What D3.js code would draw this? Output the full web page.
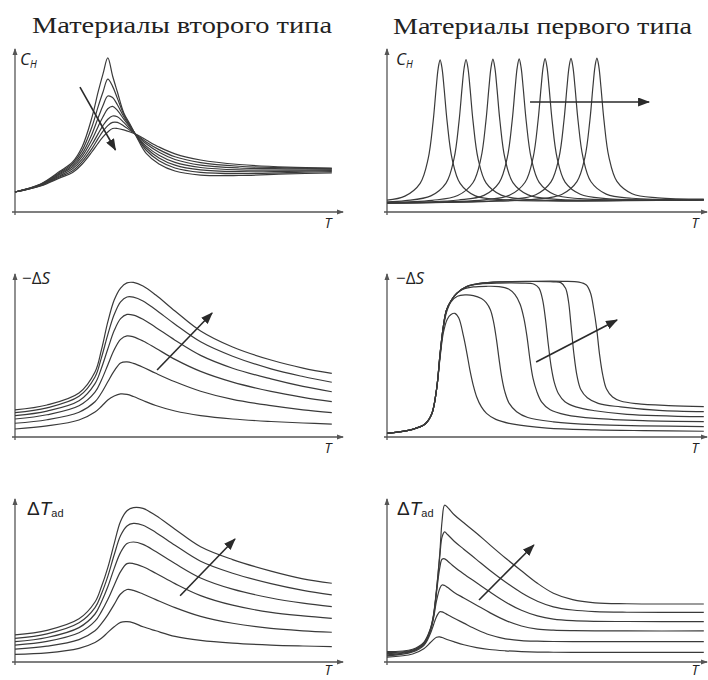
<!DOCTYPE html>
<html>
<head>
<meta charset="utf-8">
<script src="https://cdn.jsdelivr.net/npm/d3@7"></script>
<style>
  body { margin: 0; background: #fff; }
  svg text { fill: #222; }
</style>
</head>
<body>
<div id="chart"></div>
<script>
// ---- data (T and values in relative units 0..100) ----

const titles = ['Материалы второго типа', 'Материалы первого типа'];

// C_H, second-order materials (7 curves, common T grid)
const chSecondT = [0, 8, 14, 18, 21, 24, 26, 27.5, 29, 30.5, 32, 34, 36, 38, 41, 45, 50, 58, 70, 85, 99];
const chSecond = [
  [12.5, 17.5, 25.4, 31.3, 40.8, 58.8, 75.2, 86.3, 96.3, 85, 75, 61.9, 54.7, 46.9, 36.6, 30, 25.6, 23.1, 22.8, 23.8, 24.4],
  [12.5, 17.3, 24.7, 30.3, 38.5, 53, 66, 75, 83, 78.5, 71, 61, 54, 47.4, 38.6, 32, 27.5, 24.8, 24, 24.6, 25.2],
  [12.5, 17.1, 24, 29.3, 36.5, 48.5, 59, 66.5, 72.5, 71.5, 67, 59.5, 53.5, 47.6, 40, 33.8, 29.3, 26.3, 25.2, 25.4, 25.8],
  [12.5, 16.9, 23.4, 28.3, 34.8, 45, 53.5, 59.5, 64.5, 66, 63.5, 58, 52.8, 47.8, 41.2, 35.5, 31, 27.8, 26.3, 26.2, 26.3],
  [12.5, 16.7, 22.7, 27, 33, 42, 49, 54, 58, 60, 59.5, 56, 51.8, 48, 42.6, 37.3, 32.8, 29.3, 27.5, 27, 26.8],
  [12.5, 16.5, 22, 25.8, 31.5, 39.5, 46, 50.5, 54, 56, 56, 53.8, 51, 48.2, 43.8, 39, 34.5, 30.9, 28.6, 27.6, 27.2],
  [12.5, 16.3, 21.3, 24.7, 30, 37.5, 43.1, 46.9, 50, 52.2, 52.2, 51.3, 50, 48.4, 45, 40.6, 36.3, 32.5, 29.7, 28.1, 27.5]
];

// C_H, first-order materials (7 narrow peaks, [T, C] pairs)
const chFirst = [
  [[0,7.4],[5.6,9.9],[10.35,17.9],[12.85,33.2],[14.4,56.3],[15.35,77.2],[16,89.8],[16.6,95.1],[17.2,89.8],[17.85,77.2],[18.8,56.3],[20.35,33.2],[22.85,17.9],[27.6,10.1],[35.6,7.7],[50,6.9],[75,7.1],[99,7.6]],
  [[0,6.3],[5.7,7.1],[13.7,10.1],[18.45,18.1],[20.95,33.4],[22.5,56.5],[23.45,77.4],[24.1,90],[24.7,95.3],[25.3,90],[25.95,77.4],[26.9,56.5],[28.45,33.4],[30.95,18.2],[35.7,10.55],[43.7,7.9],[60,7.1],[80,7.3],[99,7.6]],
  [[0,5.9],[14.1,7.3],[22.1,10.3],[26.85,18.3],[29.35,33.5],[30.9,56.65],[31.85,77.6],[32.5,90.2],[33.1,95.5],[33.7,90.2],[34.35,77.6],[35.3,56.7],[36.85,33.6],[39.35,18.4],[44.1,10.7],[52.1,8.1],[70,7.3],[99,7.6]],
  [[0,5.7],[22.3,7.5],[30.3,10.4],[35.05,18.4],[37.55,33.7],[39.1,56.8],[40.05,77.7],[40.7,90.4],[41.3,95.7],[41.9,90.4],[42.55,77.8],[43.5,56.9],[45.05,33.8],[47.55,18.5],[52.3,10.9],[60.3,8.3],[80,7.4],[99,7.6]],
  [[0,5.6],[20,6.5],[30.4,7.6],[38.4,10.6],[43.15,18.6],[45.65,33.9],[47.2,57],[48.15,77.9],[48.8,90.5],[49.4,95.8],[50,90.5],[50.65,77.9],[51.6,57.1],[53.15,33.9],[55.65,18.7],[60.4,11.1],[68.4,8.4],[85,7.6],[99,7.7]],
  [[0,5.6],[25,6.5],[38.5,7.8],[46.5,10.8],[51.25,18.8],[53.75,34],[55.3,57.2],[56.25,78.1],[56.9,90.7],[57.5,96],[58.1,90.7],[58.75,78.1],[59.7,57.2],[61.25,34.1],[63.75,18.9],[68.5,11.2],[76.5,8.6],[99,7.8]],
  [[0,5.5],[30,6.5],[46.6,8],[54.6,10.95],[59.35,18.95],[61.85,34.2],[63.4,57.3],[64.35,78.25],[65,90.9],[65.6,96.2],[66.2,90.9],[66.85,78.3],[67.8,57.4],[69.35,34.3],[71.85,19.1],[76.6,11.4],[84.6,8.8],[99,8]]
];

// -dS, second-order (6 curves, common T grid)
const dsSecondT = [0, 10, 20, 25, 27, 29, 31, 33, 35, 37, 40, 44, 50, 58, 68, 80, 90, 99];
const dsSecond = [
  [16.9, 20, 27.5, 40.6, 54.4, 71.9, 85.6, 93.1, 96.3, 96.6, 94.4, 88.75, 78.75, 66.25, 56.25, 48.1, 43.1, 39.8],
  [15.2, 18.2, 25.4, 37.5, 49.5, 64, 76.5, 84.5, 87.5, 87.4, 85, 79.5, 70.5, 59.5, 50.5, 42.6, 37.8, 34.2],
  [13.3, 16.2, 22.6, 33.4, 43, 55, 66.5, 74, 76.6, 76.2, 73.6, 68.5, 60.5, 51, 43, 36.3, 31.6, 28.3],
  [11.25, 13.9, 19.5, 28, 35.5, 45, 54.5, 61, 63.2, 62.6, 60, 55.5, 48.5, 41, 34.3, 28.5, 24.8, 22.1],
  [8.6, 10.8, 15.5, 22, 27.5, 34.5, 41.3, 46.3, 47, 46, 43.6, 39.8, 34.5, 28.6, 23.5, 19.6, 17, 15.2],
  [5, 6.9, 10.6, 15.6, 19.1, 23.1, 25.6, 26.9, 26.6, 25.3, 22.8, 19.7, 16.25, 13.4, 11.25, 9.7, 8.75, 8.1]
];

// -dS, first-order (6 curves, [T, -dS] pairs)
const dsFirst = [
  [[0,2.3],[8,4.8],[12,8.3],[14,14.5],[15.5,30],[16.6,52.3],[17.6,69],[18.6,79.4],[20.2,85.8],[21.8,89.8],[24.9,94],[29,96],[36,97],[45,97.3],[55,97.3],[60,96.8],[62.3,95],[63.6,90],[64.6,80],[65.5,68],[66.4,52],[67.4,39],[68.6,30],[70.5,25],[73,22.5],[78,20.8],[88,19.6],[99,19]],
  [[0,2.3],[8,4.8],[12,8.3],[14,14.5],[15.5,30],[16.6,52.3],[17.6,69],[18.6,79.4],[20.2,85.8],[21.8,89.8],[24.9,94],[29,96],[36,97],[45,97.2],[52,97],[54.3,96.5],[55.8,93],[56.7,85],[57.5,70],[58.4,52],[59.4,38],[60.6,29.5],[62.6,24.5],[66,21],[73,18.8],[85,16.6],[99,15.8]],
  [[0,2.3],[8,4.8],[12,8.3],[14,14.5],[15.5,30],[16.6,52.3],[17.6,69],[18.6,79.4],[20.2,85.8],[21.8,89.8],[24.9,94],[29,95.6],[35,96.2],[42,96.2],[46,95.5],[47.5,93],[48.6,86],[49.5,74],[50.4,58],[51.3,44],[52.3,34],[53.6,27],[55.6,22],[59,18.8],[65,16.4],[75,14.2],[99,12.7]],
  [[0,2.3],[8,4.8],[12,8.3],[14,14.5],[15.5,30],[16.6,52],[17.6,69],[18.6,79.4],[20.2,85.8],[21.8,89.8],[24,92.5],[27,93.8],[31,94.2],[35,94],[38,92.5],[40,89],[41.6,83],[42.8,74],[43.8,62],[44.7,48],[45.6,37],[46.8,28.5],[48.3,22],[51,17],[56,13.8],[65,11.6],[80,10.2],[99,9.6]],
  [[0,2.3],[8,4.8],[12,8.3],[14,14.5],[15.5,30],[16.6,51],[17.6,68],[18.6,78],[20,84.5],[22,88],[24.5,88.8],[27,88.4],[29.5,86.5],[31,84],[32.3,79.5],[33.3,72],[34.2,61],[35,49],[35.8,38],[36.8,28.5],[38.2,21],[40.5,15.8],[44,12.2],[52,9.5],[65,7.7],[80,7],[99,6.5]],
  [[0,2.3],[8,4.8],[12,8.3],[14,14.5],[15.5,30],[16.6,50],[17.6,65],[18.8,73.5],[20,76.5],[21.2,77.3],[22.4,74.5],[23.9,63],[25,52],[25.9,42],[27,32],[28,25.2],[29.5,18.8],[31.1,14.8],[34,11],[39.5,8],[50,5.6],[65,4.5],[80,4],[99,3.6]]
];

// dT_ad, second-order (6 curves, common T grid)
const dtSecondT = [0, 10, 20, 25, 27, 29, 31, 33, 35, 37, 40, 44, 50, 58, 68, 80, 90, 99];
const dtSecond = [
  [16.9, 19.8, 27, 37.5, 47, 59, 74, 88, 94.5, 96.5, 96, 91.5, 83, 72, 64, 56.8, 52, 49.2],
  [14.8, 17.6, 24.5, 34, 42.5, 53.5, 67, 79, 85, 86.6, 85.5, 81, 73, 63, 55.5, 49, 44.8, 41.9],
  [12.7, 15.3, 21.5, 30, 37.5, 47, 58.5, 68.5, 74, 75, 73.5, 69, 61.5, 52.5, 45.5, 40, 36.8, 34.6],
  [10.6, 12.9, 18.3, 25.5, 31.5, 39, 48, 56.5, 61.5, 61.5, 59.5, 55.5, 49, 41.5, 35.5, 31, 28.8, 27.3],
  [8.1, 9.9, 14, 19.5, 24, 29.5, 36, 42.5, 45.3, 44.8, 42.5, 39, 34, 28.5, 24.2, 21, 19.5, 18.6],
  [4.8, 5.7, 8.5, 12.2, 14.8, 18.5, 22, 24.8, 25.2, 24.5, 22, 19.5, 16, 13.5, 11.8, 10.6, 10, 9.6]
];

// dT_ad, first-order (6 curves, common T grid)
const dtFirstT = [0, 8, 11.5, 13.5, 14.5, 15.5, 16.5, 17.2, 18, 19, 21, 24, 28, 32, 37, 42, 47, 52, 58, 65, 75, 99];
const dtFirst = [
  [6.5, 8, 12.3, 20.5, 29, 46, 68, 88, 98, 96.5, 92, 87, 80.5, 73.5, 65, 57, 49.2, 43, 39, 37, 36.4, 36.25],
  [5.8, 7.5, 11.8, 20, 28.5, 45, 66, 78, 81.3, 79.5, 75.5, 70.5, 64, 57.5, 50, 43.3, 38, 34.5, 32.5, 31.5, 31.1, 31],
  [5.2, 7.2, 11.4, 19.5, 28, 44, 59, 64.2, 64.5, 63, 59.5, 55, 49.5, 44, 37.5, 32.3, 28.8, 26.8, 25.8, 25.4, 25.3, 25.2],
  [4.5, 6.8, 11, 19, 27, 38.5, 46, 48.1, 47.8, 46.5, 43.5, 40, 35.5, 31, 26, 22.5, 20.6, 19.9, 19.6, 19.5, 19.4, 19.4],
  [3.8, 6.3, 10.3, 17.5, 23, 28.5, 31.4, 31.3, 30.6, 29.5, 27.3, 24.3, 20.3, 17, 14.5, 13.4, 13, 12.8, 12.7, 12.7, 12.7, 12.7],
  [3, 5, 8.3, 12, 14, 15.5, 15.7, 15.3, 14.7, 13.9, 12.6, 10.8, 9, 7.8, 7, 6.5, 6.2, 6.1, 6, 6, 6, 6]
];

// trend arrows per panel: [from, to]
const trendArrows = [
  [[20.3, 78.1], [31.4, 38.75]],
  [[44.7, 68.75], [81.9, 68.75]],
  [[44.4, 41.9], [61.6, 77.5]],
  [[46.6, 46.9], [71.9, 73.1]],
  [[51.6, 41.4], [68.75, 76.9]],
  [[28.75, 38.75], [45.9, 73.1]]
];

// ---- layout ----
const W = 708, H = 680;
const colX = [15, 387];
const axisEnd = [343, 707];
const rowY = [212, 437, 662];
const tLabelX = [328, 695];
const tLabelDy = [16, 16, 13];

const onGrid = (grid, rows) => rows.map(v => grid.map((t, i) => [t, v[i]]));

const panels = [
  {col: 0, row: 0, curves: onGrid(chSecondT, chSecond), label: 'ch', lx: 20},
  {col: 1, row: 0, curves: chFirst, label: 'ch', lx: 396},
  {col: 0, row: 1, curves: onGrid(dsSecondT, dsSecond), label: 'ds', lx: 22},
  {col: 1, row: 1, curves: dsFirst, label: 'ds', lx: 396},
  {col: 0, row: 2, curves: onGrid(dtSecondT, dtSecond), label: 'dt', lx: 27},
  {col: 1, row: 2, curves: onGrid(dtFirstT, dtFirst), label: 'dt', lx: 397}
];

const svg = d3.select('#chart').append('svg')
  .attr('width', W).attr('height', H);

const defs = svg.append('defs');
defs.append('marker')
  .attr('id', 'axisHead')
  .attr('viewBox', '0 -3 7 6')
  .attr('refX', 6).attr('refY', 0)
  .attr('markerUnits', 'userSpaceOnUse')
  .attr('markerWidth', 7).attr('markerHeight', 6)
  .attr('orient', 'auto')
  .append('path').attr('d', 'M0,-2.5L7,0L0,2.5Z').attr('fill', '#555');
defs.append('marker')
  .attr('id', 'trendHead')
  .attr('viewBox', '0 -4.5 12 9')
  .attr('refX', 11).attr('refY', 0)
  .attr('markerUnits', 'userSpaceOnUse')
  .attr('markerWidth', 12).attr('markerHeight', 9)
  .attr('orient', 'auto')
  .append('path').attr('d', 'M0,-4.5L12,0L0,4.5Z').attr('fill', '#2a2a2a');

// titles
svg.selectAll('text.title')
  .data(titles)
  .enter().append('text')
  .attr('class', 'title')
  .attr('x', (d, i) => i === 0 ? 32 : 393)
  .attr('y', (d, i) => i === 0 ? 33 : 34)
  .attr('textLength', (d, i) => i === 0 ? 300 : 299)
  .attr('lengthAdjust', 'spacingAndGlyphs')
  .style('font-family', '"Liberation Serif", "Times New Roman", serif')
  .style('font-size', '23px')
  .text(d => d);

panels.forEach((p, idx) => {
  const x = d3.scaleLinear().domain([0, 100]).range([colX[p.col], colX[p.col] + 320]);
  const y = d3.scaleLinear().domain([0, 100]).range([rowY[p.row], rowY[p.row] - 160]);
  const g = svg.append('g');

  // axes
  g.append('line')
    .attr('x1', colX[p.col] - 3).attr('x2', axisEnd[p.col])
    .attr('y1', rowY[p.row]).attr('y2', rowY[p.row])
    .attr('stroke', '#555').attr('stroke-width', 1.3)
    .attr('marker-end', 'url(#axisHead)');
  g.append('line')
    .attr('x1', colX[p.col]).attr('x2', colX[p.col])
    .attr('y1', rowY[p.row] + 3).attr('y2', rowY[p.row] - 163)
    .attr('stroke', '#555').attr('stroke-width', 1.3)
    .attr('marker-end', 'url(#axisHead)');

  // curves
  const line = d3.line()
    .x(d => x(d[0]))
    .y(d => y(d[1]))
    .curve(d3.curveCatmullRom.alpha(0.5));
  g.append('g')
    .selectAll('path')
    .data(p.curves)
    .enter().append('path')
    .attr('d', line)
    .attr('fill', 'none')
    .attr('stroke', '#3a3a3a')
    .attr('stroke-width', 1.2);

  // trend arrow
  const a = trendArrows[idx];
  g.append('line')
    .attr('x1', x(a[0][0])).attr('y1', y(a[0][1]))
    .attr('x2', x(a[1][0])).attr('y2', y(a[1][1]))
    .attr('stroke', '#2a2a2a').attr('stroke-width', 1.6)
    .attr('marker-end', 'url(#trendHead)');

  // x label
  g.append('text')
    .attr('x', tLabelX[p.col]).attr('y', rowY[p.row] + tLabelDy[p.row])
    .attr('text-anchor', 'middle')
    .style('font-family', '"Open Sans", sans-serif')
    .style('font-style', 'italic')
    .style('font-size', '14px')
    .text('T');

  // y label
  const lab = g.append('text')
    .style('font-family', '"Open Sans", sans-serif');
  if (p.label === 'ch') {
    lab.attr('x', p.lx).attr('y', rowY[p.row] - 147).style('font-size', '17px');
    lab.append('tspan').style('font-style', 'italic').text('C');
    lab.append('tspan').style('font-style', 'italic').style('font-size', '10px').attr('dy', 3).text('H');
  } else if (p.label === 'ds') {
    lab.attr('x', p.lx).attr('y', rowY[p.row] - 153).style('font-size', '17px');
    lab.append('tspan').text('−Δ');
    lab.append('tspan').style('font-style', 'italic').text('S');
  } else {
    lab.attr('x', p.lx).attr('y', rowY[p.row] - 147)
      .style('font-family', '"Liberation Sans", Arial, sans-serif')
      .style('font-size', '19px');
    lab.append('tspan').text('Δ');
    lab.append('tspan').style('font-style', 'italic').text('T');
    lab.append('tspan').style('font-size', '11px').attr('dy', 2).text('ad');
  }
});
</script>
</body>
</html>
